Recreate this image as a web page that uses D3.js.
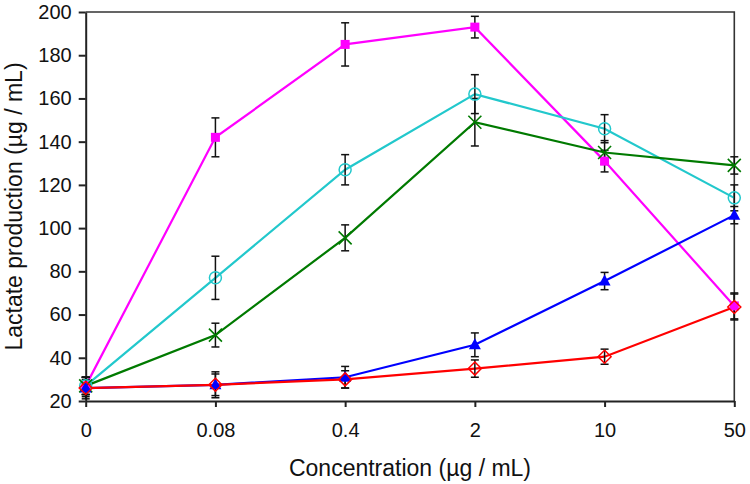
<!DOCTYPE html>
<html>
<head>
<meta charset="utf-8">
<script src="https://cdn.jsdelivr.net/npm/d3@7"></script>
<style>
  body { margin: 0; background: #fff; }
  svg text { font-family: "Liberation Sans", Arial, Helvetica, sans-serif; fill: #111; }
</style>
</head>
<body>
<div id="chart"></div>
<script>
const categories = ["0", "0.08", "0.4", "2", "10", "50"]
const yTicks = [20, 40, 60, 80, 100, 120, 140, 160, 180, 200]

const magentaVals = [27, 142, 185, 193, 131, 64]
const magentaErr = [4, 9, 10, 5, 5, 6]
const cyanVals = [27, 77, 127, 162, 146, 114]
const cyanErr = [4, 10, 7, 9, 6.5, 6]
const greenVals = [27, 50.5, 95.5, 149, 135, 129]
const greenErr = [4, 5.5, 6, 11, 5.5, 4]
const blueVals = [26, 27.5, 31, 46, 75.5, 106]
const blueErr = [5, 6, 5, 5.5, 4, 4]
const redVals = [26, 27.5, 30, 35, 40.5, 63.5]
const redErr = [4, 5, 4, 4, 3.5, 6]

const series = [
  {name: "magenta", color: "#ff00ff", values: magentaVals, err: magentaErr, marker: "square"},
  {name: "cyan", color: "#22c8cc", values: cyanVals, err: cyanErr, marker: "circle"},
  {name: "green", color: "#007a00", values: greenVals, err: greenErr, marker: "cross"},
  {name: "blue", color: "#0000ff", values: blueVals, err: blueErr, marker: "triangle"},
  {name: "red", color: "#ff0000", values: redVals, err: redErr, marker: "diamond"}
]

const width = 750, height = 484
const plotLeft = 85.7, plotRight = 734.3, plotTop = 12, plotBottom = 401

const svg = d3.select("#chart").append("svg")
  .attr("width", width)
  .attr("height", height)

const x = d3.scalePoint().domain(categories).range([plotLeft, plotRight])
const y = d3.scaleLinear().domain([20, 200]).range([plotBottom, plotTop])

// frame: top and right border
svg.append("path")
  .attr("d", `M${plotLeft},${plotTop}H${plotRight}V${plotBottom}`)
  .attr("fill", "none")
  .attr("stroke", "#333")
  .attr("stroke-width", 1.6)

const yAxis = svg.append("g")
  .attr("transform", `translate(${plotLeft},0)`)
  .call(d3.axisLeft(y).tickValues(yTicks).tickSize(7).tickPadding(7).tickSizeOuter(0))
yAxis.selectAll("text").style("font-size", "20px")

const xAxis = svg.append("g")
  .attr("transform", `translate(0,${plotBottom})`)
  .call(d3.axisBottom(x).tickSize(6).tickPadding(16).tickSizeOuter(0))
xAxis.selectAll("text").style("font-size", "20px")

svg.selectAll(".domain, .tick line").attr("stroke", "#222").attr("stroke-width", 2)

const line = d3.line()
  .x((d, i) => x(categories[i]))
  .y(d => y(d))

// lines
series.forEach(s => {
  svg.append("path")
    .datum(s.values)
    .attr("fill", "none")
    .attr("stroke", s.color)
    .attr("stroke-width", 2.2)
    .attr("d", line)
})

// error bars
series.forEach(s => {
  const g = svg.append("g").attr("stroke", "#111").attr("stroke-width", 1.5)
  s.values.forEach((v, i) => {
    const cx = x(categories[i])
    const y0 = y(v - s.err[i]), y1 = y(v + s.err[i])
    g.append("line").attr("x1", cx).attr("x2", cx).attr("y1", y0).attr("y2", y1)
    g.append("line").attr("x1", cx - 4).attr("x2", cx + 4).attr("y1", y0).attr("y2", y0)
    g.append("line").attr("x1", cx - 4).attr("x2", cx + 4).attr("y1", y1).attr("y2", y1)
  })
})

// markers
function drawMarker(g, type, color, cx, cy) {
  if (type === "square") {
    g.append("rect").attr("x", cx - 4.5).attr("y", cy - 4.5).attr("width", 9).attr("height", 9)
      .attr("fill", color)
  } else if (type === "circle") {
    g.append("circle").attr("cx", cx).attr("cy", cy).attr("r", 6)
      .attr("fill", "none").attr("stroke", color).attr("stroke-width", 1.5)
  } else if (type === "cross") {
    g.append("path").attr("d", `M${cx - 6.5},${cy - 6.5}L${cx + 6.5},${cy + 6.5}M${cx - 6.5},${cy + 6.5}L${cx + 6.5},${cy - 6.5}`)
      .attr("stroke", color).attr("stroke-width", 1.6)
  } else if (type === "triangle") {
    g.append("path").attr("d", `M${cx},${cy - 6.5}L${cx + 6},${cy + 4.5}L${cx - 6},${cy + 4.5}Z`)
      .attr("fill", color)
  } else if (type === "diamond") {
    g.append("path").attr("d", `M${cx},${cy - 6.5}L${cx + 6.5},${cy}L${cx},${cy + 6.5}L${cx - 6.5},${cy}Z`)
      .attr("fill", "none").attr("stroke", color).attr("stroke-width", 1.5)
  }
}

series.forEach(s => {
  const g = svg.append("g")
  s.values.forEach((v, i) => drawMarker(g, s.marker, s.color, x(categories[i]), y(v)))
})

// axis titles
svg.append("text")
  .attr("x", (plotLeft + plotRight) / 2)
  .attr("y", 476)
  .attr("text-anchor", "middle")
  .style("font-size", "23px")
  .text("Concentration (µg / mL)")

svg.append("text")
  .attr("transform", `translate(22,${(plotTop + plotBottom) / 2}) rotate(-90)`)
  .attr("text-anchor", "middle")
  .style("font-size", "23px")
  .text("Lactate production (µg / mL)")
</script>
</body>
</html>
